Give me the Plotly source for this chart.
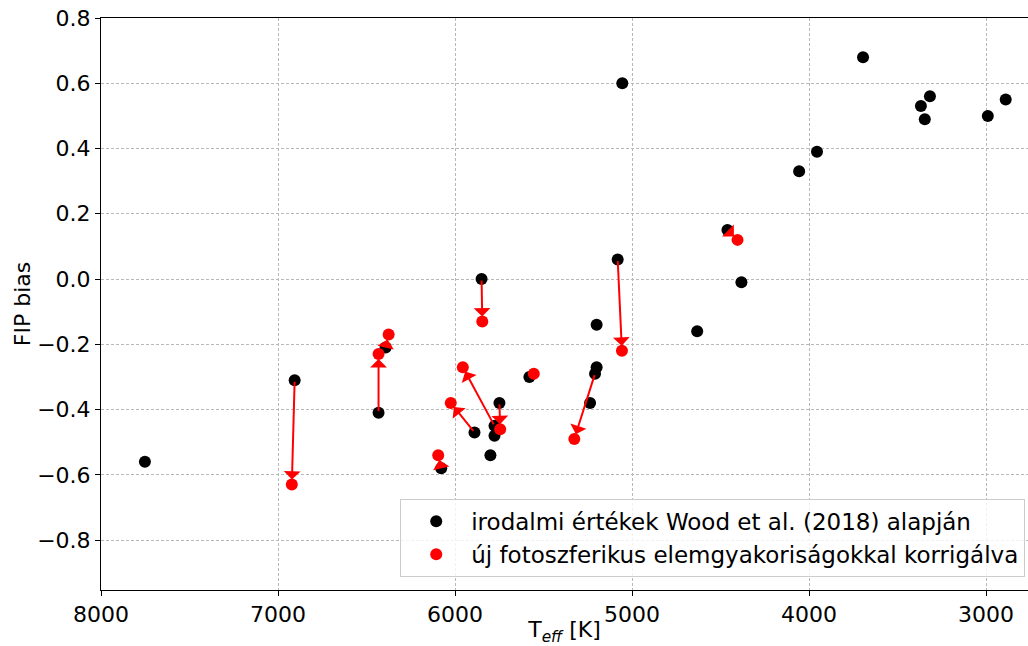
import plotly.graph_objects as go

# Literature values (Wood et al. 2018)
T_lit = [7752, 6906, 6432, 6392, 6078, 5890, 5850, 5800, 5777, 5777, 5749, 5580,
         5237, 5209, 5200, 5200, 5081, 5055, 4632, 4461, 4382, 4056, 3955, 3695,
         3368, 3346, 3317, 2990, 2889]
FIP_lit = [-0.56, -0.31, -0.41, -0.21, -0.58, -0.47, 0.00, -0.54, -0.45, -0.48, -0.38, -0.30,
           -0.38, -0.29, -0.27, -0.14, 0.06, 0.60, -0.16, 0.15, -0.01, 0.33, 0.39, 0.68,
           0.53, 0.49, 0.56, 0.50, 0.55]

# Corrected values, and index of the matching literature point
T_new = [6922, 6432, 6375, 6095, 6024, 5956, 5846, 5745, 5555, 5326, 5057, 4404]
FIP_new = [-0.63, -0.23, -0.17, -0.54, -0.38, -0.27, -0.13, -0.46, -0.29, -0.49, -0.22, 0.12]
lit_idx = [1, 2, 3, 4, 5, 8, 6, 10, 11, 13, 16, 19]

y_ticks = [-0.8, -0.6, -0.4, -0.2, 0.0, 0.2, 0.4, 0.6, 0.8]
x_ticks = [8000, 7000, 6000, 5000, 4000, 3000]

FONT = "DejaVu Sans"

fig = go.Figure()
fig.add_trace(go.Scatter(
    x=T_lit, y=FIP_lit, mode="markers",
    marker=dict(color="black", size=12),
    name="irodalmi értékek Wood et al. (2018) alapján"))
fig.add_trace(go.Scatter(
    x=T_new, y=FIP_new, mode="markers",
    marker=dict(color="red", size=12),
    name="új fotoszferikus elemgyakoriságokkal korrigálva"))

for tn, fn, i in zip(T_new, FIP_new, lit_idx):
    fig.add_annotation(
        x=tn, y=fn, ax=T_lit[i], ay=FIP_lit[i],
        xref="x", yref="y", axref="x", ayref="y",
        text="", showarrow=True, arrowhead=1, arrowsize=1.4,
        arrowwidth=2, arrowcolor="red", standoff=5)

axis_common = dict(
    showline=True, linecolor="black", linewidth=1,
    ticks="outside", ticklen=5, tickcolor="black", tickwidth=1,
    showgrid=True, gridcolor="#b8b8b8", griddash="3px,2px", gridwidth=1,
    zeroline=False, automargin=False,
    tickfont=dict(family=FONT, size=22, color="black"),
)

fig.update_xaxes(range=[8000, 2763], tickvals=x_ticks, mirror=True,
                 ticktext=[str(v) for v in x_ticks],
                 title=dict(text="T<sub><i>eff</i></sub> [K]",
                            font=dict(family=FONT, size=22, color="black"),
                            standoff=4),
                 **axis_common)
fig.update_yaxes(range=[-0.953, 0.8], tickvals=y_ticks, tickformat=".1f",
                 mirror=False,
                 title=dict(text="FIP bias",
                            font=dict(family=FONT, size=22, color="black"),
                            standoff=0),
                 **axis_common)

fig.update_layout(
    width=1028, height=646,
    margin=dict(l=101, r=0, t=18, b=56),
    plot_bgcolor="white", paper_bgcolor="white",
    font=dict(family=FONT, size=22, color="black"),
    showlegend=True,
    legend=dict(x=0.997, xanchor="right", y=0.023, yanchor="bottom",
                bgcolor="rgba(255,255,255,0.8)", bordercolor="#cccccc",
                borderwidth=1, itemwidth=60,
                font=dict(family=FONT, size=23, color="black")),
)

fig.write_html("out.html", config={"displayModeBar": False},
               post_script="document.body.style.margin='0';")
